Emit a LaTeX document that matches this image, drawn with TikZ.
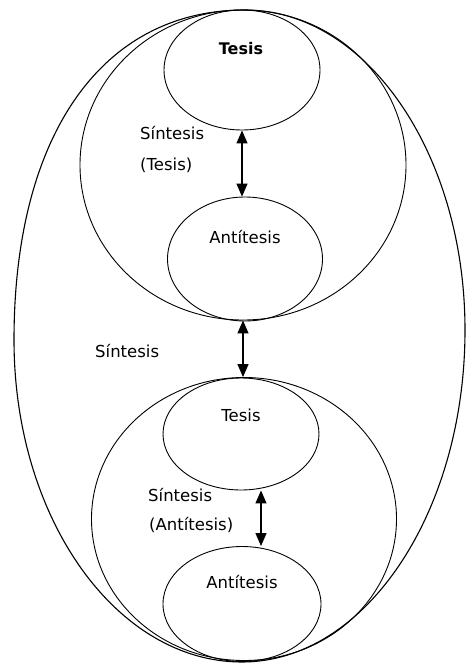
\documentclass[tikz,border=0pt]{standalone}
\usepackage{fontspec}
\setmainfont{DejaVu Sans}
\usetikzlibrary{shapes.geometric,arrows.meta,calc}
\begin{document}
\begin{tikzpicture}[x=1pt,y=-1pt,
  oval/.style={draw,ellipse,inner sep=0pt,line width=0.9pt},
  lbl/.style={inner sep=0pt,font=\fontsize{16.5}{20}\selectfont},
  tip/.tip={Triangle[length=13pt,width=11pt]},
  dbl/.style={tip-tip,line width=1.3pt}]
\useasboundingbox (0,0) rectangle (466,664);
% outer egg
\draw[line width=1.1pt] (245,10) .. controls (366,10) and (465,153) .. (465,330)
  .. controls (465,513) and (365,662) .. (242,662)
  .. controls (116,662) and (14,518) .. (14,340)
  .. controls (14,135) and (102,10) .. cycle;
% upper group
\node[oval,minimum width=326pt,minimum height=310pt] (up) at (243,165) {};
\node[oval,minimum width=156pt,minimum height=120pt] (tesA) at (242,70) {};
\node[oval,minimum width=155pt,minimum height=124pt] (antA) at (245,259) {};
% lower group
\node[oval,minimum width=305pt,minimum height=283pt] (low) at (244,519) {};
\node[oval,minimum width=156pt,minimum height=112pt] (tesB) at (241,434) {};
\node[oval,minimum width=158pt,minimum height=115pt] (antB) at (242,604) {};
% arrows
\draw[dbl] (tesA.south) -- (tesA.south |- antA.north);
\draw[dbl] (up.south) -- (up.south |- low.north);
\draw[dbl] ($(tesB.south)+(20,0)$) -- ($(antB.north)+(19,0)$);
% labels
\node[lbl,font=\fontsize{16}{20}\selectfont\bfseries] (t1) at (241,49) {Tesis};
\node[lbl,anchor=west] (s1) at (140,133) {Síntesis};
\node[lbl,anchor=west] (s1b) at (140,165) {(Tesis)};
\node[lbl] (a1) at (245,237) {Antítesis};
\node[lbl,anchor=west] (s0) at (95,351) {Síntesis};
\node[lbl] (t2) at (241,415) {Tesis};
\node[lbl,anchor=west] (s2) at (148,495) {Síntesis};
\node[lbl,anchor=west] (s2b) at (149,525) {(Antítesis)};
\node[lbl] (a2) at (242,582) {Antítesis};
\end{tikzpicture}
\end{document}
